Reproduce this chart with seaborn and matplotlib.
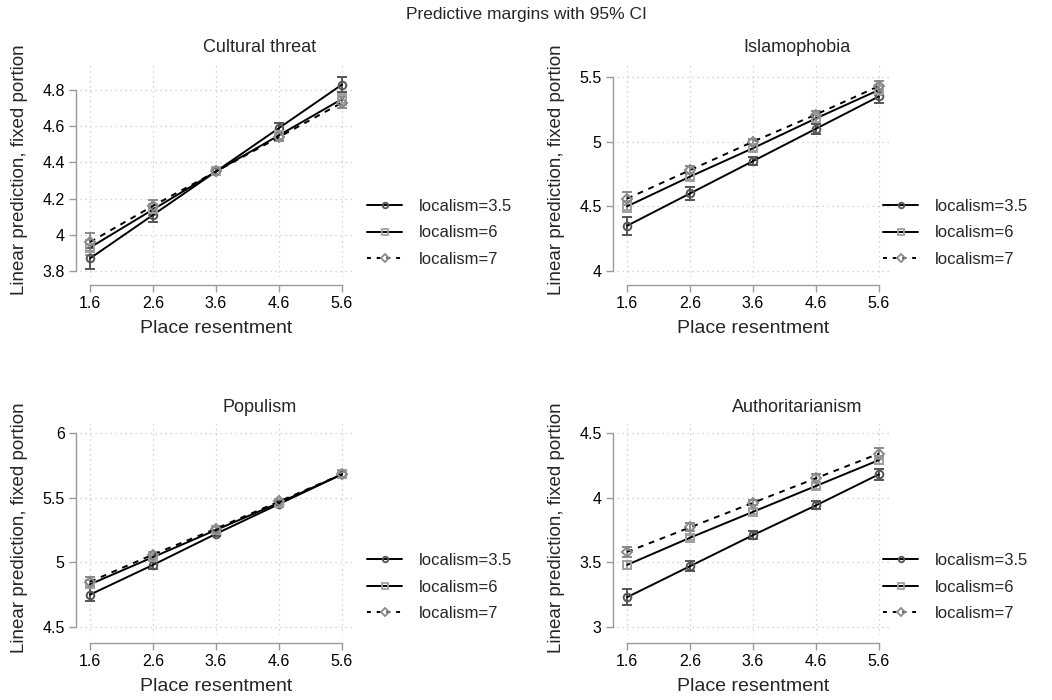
import numpy as np
import matplotlib
matplotlib.use("Agg")
import matplotlib.pyplot as plt
from matplotlib.lines import Line2D
import seaborn as sns

# ---- data ----
resentment = [1.6, 2.6, 3.6, 4.6, 5.6]
localism_labels = ["localism=3.5", "localism=6", "localism=7"]
panel_titles = ["Cultural threat", "Islamophobia", "Populism", "Authoritarianism"]

cultural_35 = [3.87, 4.11, 4.35, 4.59, 4.83]
cultural_6 = [3.93, 4.14, 4.35, 4.55, 4.75]
cultural_7 = [3.96, 4.16, 4.35, 4.54, 4.73]
cultural_ci_35 = [0.06, 0.04, 0.02, 0.03, 0.04]
cultural_ci_6 = [0.04, 0.03, 0.02, 0.02, 0.03]
cultural_ci_7 = [0.05, 0.03, 0.02, 0.02, 0.03]

islam_35 = [4.35, 4.60, 4.85, 5.10, 5.35]
islam_6 = [4.50, 4.73, 4.95, 5.18, 5.40]
islam_7 = [4.56, 4.78, 5.00, 5.21, 5.43]
islam_ci_35 = [0.07, 0.05, 0.03, 0.04, 0.05]
islam_ci_6 = [0.04, 0.03, 0.02, 0.03, 0.04]
islam_ci_7 = [0.05, 0.03, 0.02, 0.03, 0.04]

populism_35 = [4.75, 4.98, 5.22, 5.45, 5.68]
populism_6 = [4.83, 5.04, 5.25, 5.46, 5.68]
populism_7 = [4.85, 5.06, 5.26, 5.47, 5.68]
populism_ci_35 = [0.05, 0.03, 0.02, 0.02, 0.03]
populism_ci_6 = [0.03, 0.02, 0.02, 0.02, 0.02]
populism_ci_7 = [0.04, 0.02, 0.02, 0.02, 0.03]

auth_35 = [3.23, 3.47, 3.71, 3.94, 4.18]
auth_6 = [3.48, 3.69, 3.89, 4.09, 4.29]
auth_7 = [3.58, 3.77, 3.96, 4.15, 4.34]
auth_ci_35 = [0.06, 0.04, 0.03, 0.03, 0.04]
auth_ci_6 = [0.03, 0.02, 0.02, 0.02, 0.03]
auth_ci_7 = [0.04, 0.03, 0.02, 0.03, 0.04]

panel_values = [
    [cultural_35, cultural_6, cultural_7],
    [islam_35, islam_6, islam_7],
    [populism_35, populism_6, populism_7],
    [auth_35, auth_6, auth_7],
]
panel_cis = [
    [cultural_ci_35, cultural_ci_6, cultural_ci_7],
    [islam_ci_35, islam_ci_6, islam_ci_7],
    [populism_ci_35, populism_ci_6, populism_ci_7],
    [auth_ci_35, auth_ci_6, auth_ci_7],
]
panel_yticks = [
    [3.8, 4.0, 4.2, 4.4, 4.6, 4.8],
    [4.0, 4.5, 5.0, 5.5],
    [4.5, 5.0, 5.5, 6.0],
    [3.0, 3.5, 4.0, 4.5],
]
panel_ylims = [(3.767, 4.955), (3.954, 5.616), (4.438, 6.10), (2.938, 4.60)]

# ---- styles ----
MARKERS = ["o", "s", "D"]
MSIZES = [5.5, 5.5, 4.6]
EDGE = ["#555555", "#a0a0a0", "#8a8a8a"]
LSTYLE = ["-", "-", (0, (3, 3))]

W, H = 1052, 700

sns.set_style("white")
plt.rcParams["font.family"] = ["Liberation Sans", "DejaVu Sans"]

fig = plt.figure(figsize=(W / 100, H / 100), dpi=100)
fig.text(0.5, 1 - 15 / H, "Predictive margins with 95% CI", ha="center", va="center", fontsize=12.5)

# axes boxes in pixels: left, top, right, bottom
boxes = [(80, 62, 352, 277), (617, 62, 889, 277), (80, 420, 352, 635), (617, 420, 889, 635)]
title_x = [260, 797, 260, 797]
title_y = [48, 48, 407, 407]
legend_x = [367, 883, 367, 883]
legend_y = [233, 233, 587, 587]

fmt = lambda v: f"{v:g}"

# small legend keys, as in the reference
legend_handles = [
    Line2D([], [], color="black", lw=1.4, linestyle=LSTYLE[j], marker=MARKERS[j],
           ms=[4, 4, 4.5][j], mfc="none", mec=EDGE[j], mew=1.3)
    for j in range(3)
]
legend_handles[2].set_linestyle((0, (2, 3)))

for i, (l, t, r, b) in enumerate(boxes):
    ax = fig.add_axes([l / W, 1 - b / H, (r - l) / W, (b - t) / H])
    ax.set_xlim(1.44, 5.76)
    ax.set_ylim(*panel_ylims[i])

    for j in range(3):
        y = panel_values[i][j]
        ax.errorbar(resentment, y, yerr=panel_cis[i][j], fmt="none", ecolor=EDGE[j],
                    elinewidth=1.4, capsize=3.5, capthick=1.4, zorder=2)
        sns.lineplot(x=resentment, y=y, ax=ax, color="black", linestyle=LSTYLE[j], lw=1.4,
                     marker=MARKERS[j], ms=MSIZES[j], mfc="none", mec=EDGE[j], mew=1.4,
                     zorder=3)

    ax.set_xticks(resentment)
    ax.set_xticklabels([fmt(v) for v in resentment])
    yt = panel_yticks[i]
    ax.set_yticks(yt)
    ax.set_yticklabels([fmt(v) for v in yt])
    ax.grid(True, color="#c8c8c8", linestyle=(0, (1, 3)), lw=0.9)
    ax.tick_params(axis="both", labelsize=11.5, length=5, width=1, color="#9a9a9a",
                   labelcolor="black", bottom=True, left=True, pad=3)

    for s in ["top", "right"]:
        ax.spines[s].set_visible(False)
    ax.spines["left"].set_position(("outward", 3))
    ax.spines["bottom"].set_position(("outward", 6))
    ax.spines["left"].set_bounds(yt[0], yt[-1])
    ax.spines["bottom"].set_bounds(resentment[0], resentment[-1])
    for s in ["left", "bottom"]:
        ax.spines[s].set_color("#9a9a9a")
        ax.spines[s].set_linewidth(1)

    ax.set_xlabel("Place resentment", fontsize=14, labelpad=6)
    ax.set_ylabel("Linear prediction, fixed portion", fontsize=13.5, labelpad=10)

    fig.text(title_x[i] / W, 1 - title_y[i] / H, panel_titles[i], ha="center", va="center", fontsize=13)

    ax.legend(legend_handles, localism_labels, loc="center left",
              bbox_to_anchor=(legend_x[i] / W, 1 - legend_y[i] / H),
              bbox_transform=fig.transFigure, frameon=False, fontsize=12,
              handlelength=2.1, handletextpad=1.0, labelspacing=0.68,
              borderpad=0, borderaxespad=0)

fig.savefig("out.png", dpi=100)
